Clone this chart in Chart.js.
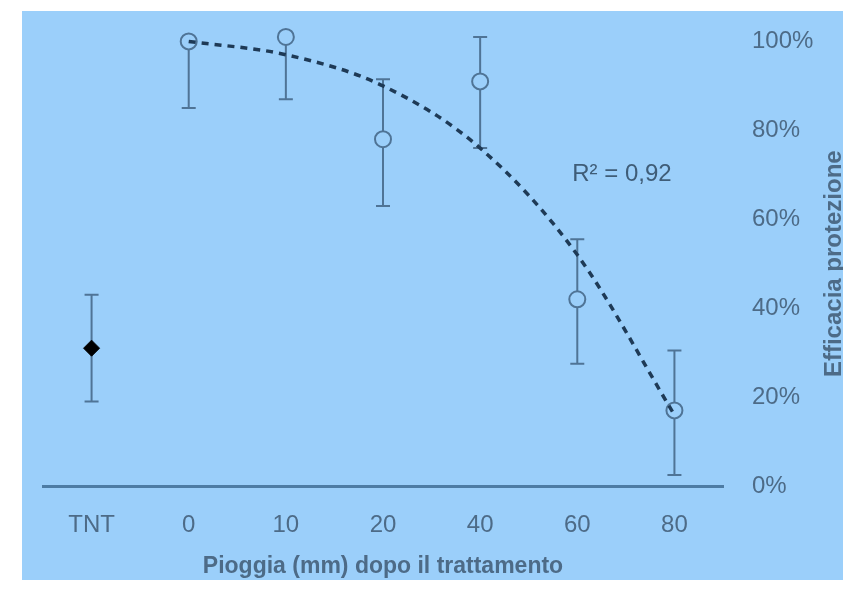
<!DOCTYPE html>
<html>
<head>
<meta charset="utf-8">
<script src="https://cdn.jsdelivr.net/npm/chart.js@4/dist/chart.umd.min.js"></script>
<style>
  html, body { margin: 0; padding: 0; background: #fff; }
  #box { position: absolute; left: 22px; top: 11px; width: 821px; height: 569px; background: #9bcffa; }
  #wrap { position: absolute; left: 0; top: -5px; width: 821px; height: 574px; }
</style>
</head>
<body>
<div id="box"><div id="wrap"><canvas id="grafico"></canvas></div></div>
<script>
// dati
const categorie = ['TNT', '0', '10', '20', '40', '60', '80'];
const efficacia = [null, 100, 101, 78, 91, 42, 17];
const testimone = [31, null, null, null, null, null, null];
const erroreAlto = [43, 100, 101, 91.5, 101, 55.5, 30.5];
const erroreBasso = [19, 85, 87, 63, 76, 27.5, 2.5];
const tendenza = [null, 100, 97, 90, 76, 52, 16];
const yTicks = [0, 20, 40, 60, 80, 100];

const sfondo = '#9bcffa';
const coloreTesto = '#4d6b87';
const font = "'Liberation Sans', Arial, sans-serif";

// barre di errore + testi extra
const extra = {
  id: 'extra',
  beforeDatasetsDraw(chart) {
    const ctx = chart.ctx;
    const x = chart.scales.x, y = chart.scales.y;
    ctx.save();
    ctx.strokeStyle = '#4f7496';
    ctx.lineWidth = 2;
    for (let i = 0; i < categorie.length; i++) {
      const px = x.getPixelForValue(i);
      const val = efficacia[i] !== null ? efficacia[i] : testimone[i];
      const top = y.getPixelForValue(erroreAlto[i]);
      const bot = y.getPixelForValue(erroreBasso[i]);
      ctx.beginPath();
      ctx.moveTo(px, top);
      ctx.lineTo(px, bot);
      if (erroreAlto[i] !== val) { ctx.moveTo(px - 7, top); ctx.lineTo(px + 7, top); }
      if (erroreBasso[i] !== val) { ctx.moveTo(px - 7, bot); ctx.lineTo(px + 7, bot); }
      ctx.stroke();
    }
    ctx.restore();
  },
  afterDraw(chart) {
    const ctx = chart.ctx;
    const x = chart.scales.x, y = chart.scales.y;
    const area = chart.chartArea;
    ctx.save();
    ctx.fillStyle = '#3f5d78';
    ctx.font = '24px ' + font;
    ctx.textAlign = 'center';
    ctx.textBaseline = 'middle';
    ctx.fillText('R² = 0,92', x.getPixelForValue(5.46), y.getPixelForValue(70));
    // titolo asse y, letto dal basso verso l'alto
    ctx.fillStyle = coloreTesto;
    ctx.font = 'bold 24px ' + font;
    ctx.translate(chart.width - 9, (area.top + area.bottom) / 2);
    ctx.rotate(-Math.PI / 2);
    ctx.fillText('Efficacia protezione', 0, 0);
    ctx.restore();
  }
};

new Chart(document.getElementById('grafico'), {
  type: 'line',
  data: {
    labels: categorie,
    datasets: [
      {
        data: tendenza,
        borderColor: '#1e3a56',
        borderWidth: 3.5,
        borderDash: [7, 6],
        pointRadius: 0,
        cubicInterpolationMode: 'monotone',
        clip: false
      },
      {
        data: efficacia,
        showLine: false,
        pointStyle: 'circle',
        pointRadius: 8,
        pointBorderWidth: 2,
        pointBorderColor: '#4f7496',
        pointBackgroundColor: sfondo,
        clip: false
      },
      {
        data: testimone,
        showLine: false,
        pointStyle: 'rectRot',
        pointRadius: 8,
        pointBorderWidth: 1,
        pointBorderColor: '#000',
        pointBackgroundColor: '#000',
        clip: false
      }
    ]
  },
  options: {
    responsive: true,
    maintainAspectRatio: false,
    animation: false,
    events: [],
    layout: { padding: { left: 21, top: 10, right: 0, bottom: 0 } },
    plugins: { legend: { display: false }, tooltip: { enabled: false } },
    scales: {
      x: {
        offset: true,
        grid: { display: false },
        border: { display: true, color: '#4d7ca4', width: 3 },
        ticks: { color: coloreTesto, font: { family: font, size: 24 }, padding: 17 },
        title: {
          display: true,
          text: 'Pioggia (mm) dopo il trattamento',
          color: coloreTesto,
          font: { family: font, size: 23, weight: 'bold' },
          padding: { top: 0, bottom: 0 }
        },
        afterFit(scale) { scale.height = 94; }
      },
      y: {
        position: 'right',
        min: 0,
        max: 100,
        grid: { display: false },
        border: { display: false },
        afterBuildTicks(scale) { scale.ticks = yTicks.map(v => ({ value: v })); },
        ticks: {
          color: coloreTesto,
          font: { family: font, size: 24 },
          padding: 21,
          callback: v => v + '%'
        },
        afterFit(scale) { scale.width = 120; }
      }
    }
  },
  plugins: [extra]
});
</script>
</body>
</html>
